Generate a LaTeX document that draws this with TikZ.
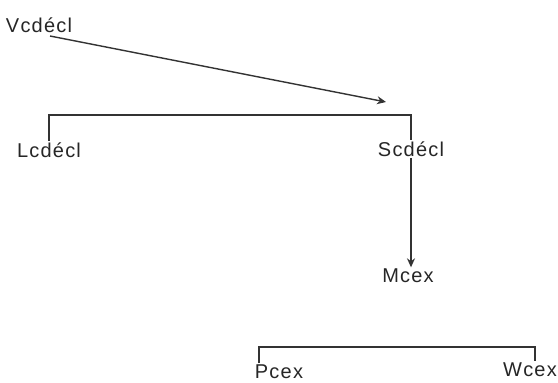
\documentclass[tikz,border=0pt]{standalone}
\usepackage{fontspec}
\setmainfont{Liberation Sans}[LetterSpace=6]
\usetikzlibrary{arrows.meta}
\begin{document}
\begin{tikzpicture}[x=1pt,y=-1pt,
  lbl/.style={inner sep=1.5pt,font=\fontsize{20}{22}\selectfont,text=black!85},
  ln/.style={line width=1.4pt,draw=black!80},
  arr/.style={ln,-{Stealth[length=9pt,width=8pt]}}]
\useasboundingbox (0,0) rectangle (558,383);
\node[lbl] (V) at (39,25) {Vcdécl};
\node[lbl] (L) at (49,150) {Lcdécl};
\node[lbl] (S) at (411,149) {Scdécl};
\node[lbl] (M) at (408,276) {Mcex};
\node[lbl] (P) at (279,372) {Pcex};
\node[lbl] (W) at (530,370) {Wcex};
\coordinate (vs) at (50,36);
\coordinate (ve) at (386,102);
\coordinate (tl) at (49,115);
\coordinate (tr) at (411,115);
\coordinate (bl) at (259,347);
\coordinate (br) at (535,347);
\draw[arr] (vs) -- (ve);
\draw[ln] (L.north -| tl) -- (tl) -- (tr) -- (S.north -| tr);
\draw[arr] (S.south -| tr) -- (M.north -| tr);
\draw[ln] (P.north -| bl) -- (bl) -- (br) -- (W.north -| br);
\end{tikzpicture}
\end{document}
